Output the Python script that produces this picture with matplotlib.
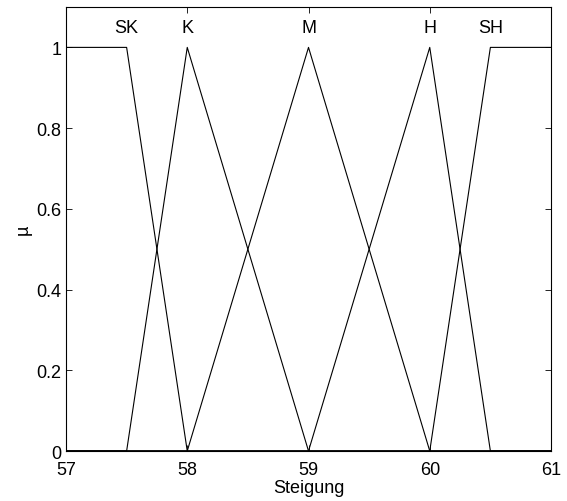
import matplotlib
matplotlib.use('Agg')
import matplotlib.pyplot as plt

plt.rcParams['font.family'] = ['Liberation Sans', 'DejaVu Sans']

# membership functions over the input "Steigung"
names = ['SK', 'K', 'M', 'H', 'SH']
mf_x = [
    [57, 57.5, 58, 61],
    [57, 57.5, 58, 59, 61],
    [57, 58, 59, 60, 61],
    [57, 59, 60, 60.5, 61],
    [57, 60, 60.5, 61],
]
mf_y = [
    [1, 1, 0, 0],
    [0, 0, 1, 0, 0],
    [0, 0, 1, 0, 0],
    [0, 0, 1, 0, 0],
    [0, 0, 1, 1],
]
label_x = [57.5, 58, 59, 60, 60.5]

fig = plt.figure(figsize=(5.67, 5.02), dpi=100)
ax = fig.add_axes([0.1164, 0.0996, 0.8554, 0.8844])

for xs, ys in zip(mf_x, mf_y):
    ax.plot(xs, ys, color='black', linewidth=0.8)

for name, lx in zip(names, label_x):
    ax.text(lx, 1.05, name, ha='center', va='center', fontsize=13)

ax.set_xlim(57, 61)
ax.set_ylim(0, 1.1)
ax.set_xticks([57, 58, 59, 60, 61])
ax.set_yticks([0, 0.2, 0.4, 0.6, 0.8, 1])
ax.set_yticklabels(['0', '0.2', '0.4', '0.6', '0.8', '1'])
ax.tick_params(direction='in', top=True, right=True, length=4, width=0.6, labelsize=13)
ax.tick_params(axis='x', pad=7)
for s in ax.spines.values():
    s.set_linewidth(0.8)
ax.set_xlabel('Steigung', fontsize=13, labelpad=1)
ax.set_ylabel('µ', fontsize=13, labelpad=3)

fig.savefig('out.png', dpi=100)
